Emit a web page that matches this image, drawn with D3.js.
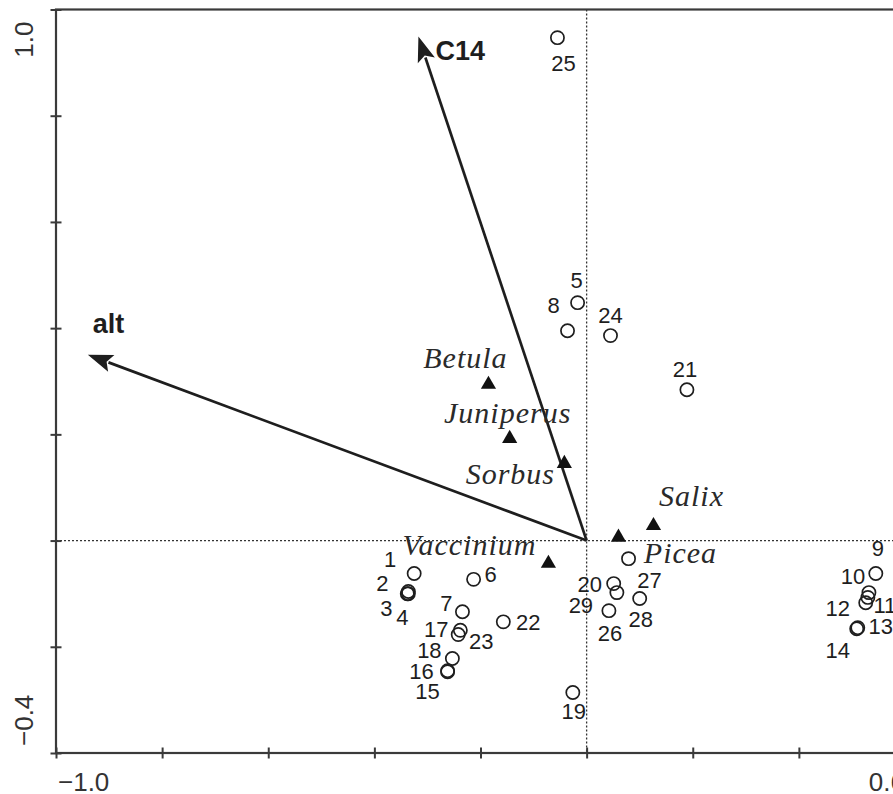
<!DOCTYPE html>
<html>
<head>
<meta charset="utf-8">
<script src="https://cdn.jsdelivr.net/npm/d3@7"></script>
<style>
	body { margin: 0; background: #fff; }
	svg { display: block; }
</style>
</head>
<body>
<div id="chart"></div>
<script>
// ordination biplot: sites, species, environmental arrows

const siteIds = [1, 2, 3, 4, 5, 6, 7, 8, 9, 10, 11, 12, 13, 14, 15, 16, 17, 18, 19, 20, 21, 22, 23, 24, 25, 26, 27, 28, 29];
const siteX = [-0.325, -0.336, -0.338, -0.336, -0.017, -0.213, -0.234, -0.036, 0.545, 0.532, 0.530, 0.526, 0.511, 0.509, -0.262,
	-0.262, -0.238, -0.253, -0.026, 0.051, 0.189, -0.157, -0.242, 0.045, -0.055, 0.042, 0.079, 0.100, 0.057];
const siteY = [-0.062, -0.096, -0.100, -0.100, 0.448, -0.073, -0.134, 0.395, -0.062, -0.098, -0.107, -0.117, -0.164, -0.166, -0.247,
	-0.245, -0.169, -0.222, -0.286, -0.081, 0.284, -0.153, -0.177, 0.386, 0.947, -0.132, -0.034, -0.109, -0.098];

const speciesNames = ["Betula", "Juniperus", "Sorbus", "Salix", "Picea", "Vaccinium"];
const speciesX = [-0.185, -0.145, -0.042, 0.126, 0.060, -0.072];
const speciesY = [0.294, 0.192, 0.145, 0.028, 0.006, -0.043];

const envNames = ["alt", "C14"];
const envX = [-0.940, -0.317];
const envY = [0.350, 0.949];

const xTicks = [-1.0, -0.8, -0.6, -0.4, -0.2, 0.0, 0.2, 0.4, 0.6];
const yTicks = [-0.4, -0.2, 0.0, 0.2, 0.4, 0.6, 0.8, 1.0];
const xTickLabels = ["\u22121.0", "0.6"];
const yTickLabels = ["\u22120.4", "1.0"];

const width = 893;
const height = 794;

// label offsets (centre dx, baseline dy) in px, picked to mimic the original placement
const siteLabelPos = {
	1: [-24, -6], 2: [-26, -1], 3: [-21, 22], 4: [-6, 31], 5: [-1, -15], 6: [17, 3], 7: [-16, -1], 8: [-14, -18],
	9: [2, -17], 10: [-16, -9], 11: [17, 16], 12: [-28, 13], 13: [23, 6], 14: [-19, 29], 15: [-20, 27],
	16: [-26, 8], 17: [-24, 7], 18: [-23, 0], 19: [1, 27], 20: [-24, 8], 21: [-2, -13], 22: [25, 8],
	23: [23, 14], 24: [0, -13], 25: [6, 33], 26: [1, 30], 27: [21, 29], 28: [1, 29], 29: [-36, 20]
};
const speciesLabelPos = {
	Betula: [-23, -16], Juniperus: [-2, -16], Sorbus: [-54, 20],
	Salix: [38, -20], Picea: [62, 26], Vaccinium: [-79, -8]
};
const envLabelPos = { alt: [5, -22], C14: [17, 23] };

const x = d3.scaleLinear().domain([-1.0, 0.6]).range([56, 905]);
const y = d3.scaleLinear().domain([-0.4, 1.0]).range([753, 9.5]);

const svg = d3.select("#chart").append("svg")
	.attr("width", width)
	.attr("height", height)
	.attr("viewBox", [0, 0, width, height]);

const ink = "#1e1e1e";

// zero lines
svg.append("line")
	.attr("x1", x(0)).attr("x2", x(0))
	.attr("y1", y(1.0)).attr("y2", y(-0.4))
	.attr("stroke", "#333").attr("stroke-width", 1.3).attr("stroke-dasharray", "2,2");
svg.append("line")
	.attr("x1", x(-1.0)).attr("x2", x(0.6))
	.attr("y1", y(0)).attr("y2", y(0))
	.attr("stroke", "#333").attr("stroke-width", 1.3).attr("stroke-dasharray", "2,2");

// environmental arrows
const env = envNames.map((n, i) => ({ name: n, x: envX[i], y: envY[i] }));
const x0 = x(0), y0 = y(0);
const headLen = 25, headHalf = 9;

env.forEach(d => {
	const tx = x(d.x), ty = y(d.y);
	const len = Math.hypot(tx - x0, ty - y0);
	const ux = (tx - x0) / len, uy = (ty - y0) / len;
	const bx = tx - ux * headLen, by = ty - uy * headLen;
	svg.append("line")
		.attr("x1", x0).attr("y1", y0)
		.attr("x2", bx + ux * 3).attr("y2", by + uy * 3)
		.attr("stroke", ink).attr("stroke-width", 2.7);
	svg.append("path")
		.attr("d", `M${tx},${ty}L${bx - uy * headHalf},${by + ux * headHalf}L${bx + ux * 5},${by + uy * 5}L${bx + uy * headHalf},${by - ux * headHalf}Z`)
		.attr("fill", ink);
	const p = envLabelPos[d.name];
	svg.append("text")
		.attr("x", tx + p[0]).attr("y", ty + p[1])
		.attr("font-family", "'Liberation Sans', Arial, sans-serif")
		.attr("font-weight", "bold")
		.attr("font-size", 27)
		.attr("fill", ink)
		.text(d.name);
});

// species
const species = speciesNames.map((n, i) => ({ name: n, x: speciesX[i], y: speciesY[i] }));
svg.selectAll("path.species")
	.data(species)
	.join("path")
	.attr("class", "species")
	.attr("d", d3.symbol(d3.symbolTriangle, 100))
	.attr("transform", d => `translate(${x(d.x)},${y(d.y)})`)
	.attr("fill", "#111");

svg.selectAll("text.species")
	.data(species)
	.join("text")
	.attr("class", "species")
	.attr("x", d => x(d.x) + speciesLabelPos[d.name][0])
	.attr("y", d => y(d.y) + speciesLabelPos[d.name][1])
	.attr("text-anchor", "middle")
	.attr("font-family", "'Liberation Serif', 'Times New Roman', serif")
	.attr("font-style", "italic")
	.attr("font-size", 30)
	.attr("letter-spacing", 1)
	.attr("fill", "#2a2a2a")
	.text(d => d.name);

// sites
const sites = siteIds.map((id, i) => ({ id: id, x: siteX[i], y: siteY[i] }));
svg.selectAll("circle.site")
	.data(sites)
	.join("circle")
	.attr("class", "site")
	.attr("cx", d => x(d.x))
	.attr("cy", d => y(d.y))
	.attr("r", 6.6)
	.attr("fill", "none")
	.attr("stroke", ink)
	.attr("stroke-width", 1.7);

svg.selectAll("text.site")
	.data(sites)
	.join("text")
	.attr("class", "site")
	.attr("x", d => x(d.x) + siteLabelPos[d.id][0])
	.attr("y", d => y(d.y) + siteLabelPos[d.id][1])
	.attr("text-anchor", "middle")
	.attr("font-family", "'Liberation Sans', Arial, sans-serif")
	.attr("font-size", 22)
	.attr("fill", ink)
	.text(d => d.id);

// frame and axes
svg.append("rect")
	.attr("x", x(-1.0)).attr("y", y(1.0))
	.attr("width", x(0.6) - x(-1.0))
	.attr("height", y(-0.4) - y(1.0))
	.attr("fill", "none")
	.attr("stroke", "#3a3a3a")
	.attr("stroke-width", 2.2);

const axisY = svg.append("g")
	.attr("transform", `translate(${x(-1.0)},0)`)
	.call(d3.axisLeft(y).tickValues(yTicks).tickFormat("").tickSizeOuter(0));
const axisX = svg.append("g")
	.attr("transform", `translate(0,${y(-0.4)})`)
	.call(d3.axisBottom(x).tickValues(xTicks).tickFormat("").tickSizeOuter(0));

axisY.select(".domain").remove();
axisX.select(".domain").remove();
axisY.selectAll(".tick line").attr("x1", -5.5).attr("x2", 5.5).attr("stroke", "#3a3a3a").attr("stroke-width", 2);
axisX.selectAll(".tick line").attr("y1", -5.5).attr("y2", 5.5).attr("stroke", "#3a3a3a").attr("stroke-width", 2);

// end labels only
const tickFont = "'Liberation Sans', Arial, sans-serif";
svg.append("text")
	.attr("transform", `translate(33,${y(1.0) + 12}) rotate(-90)`)
	.attr("text-anchor", "end")
	.attr("font-family", tickFont).attr("font-size", 26).attr("fill", "#333")
	.text(yTickLabels[1]);
svg.append("text")
	.attr("transform", `translate(33,${y(-0.4) - 7}) rotate(-90)`)
	.attr("text-anchor", "start")
	.attr("font-family", tickFont).attr("font-size", 26).attr("fill", "#333")
	.text(yTickLabels[0]);
svg.append("text")
	.attr("x", x(-1.0) + 2).attr("y", 791)
	.attr("text-anchor", "start")
	.attr("font-family", tickFont).attr("font-size", 26).attr("fill", "#333")
	.text(xTickLabels[0]);
svg.append("text")
	.attr("x", x(0.6)).attr("y", 791)
	.attr("text-anchor", "end")
	.attr("font-family", tickFont).attr("font-size", 26).attr("fill", "#333")
	.text(xTickLabels[1]);
</script>
</body>
</html>
